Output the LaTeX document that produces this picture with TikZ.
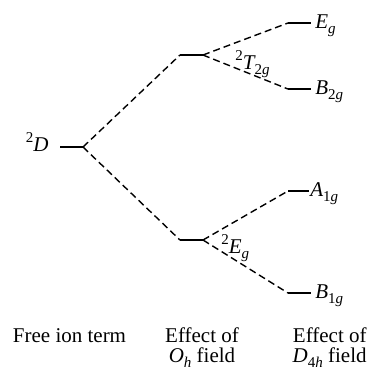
\documentclass[tikz,border=0pt]{standalone}
\usepackage{fontspec}
\setmainfont{Liberation Serif}
\newcommand{\lvl}[3]{{\itshape #1}\raisebox{-0.6ex}{\fontsize{7.5}{8}\selectfont #2{\itshape #3}}}
\newcommand{\termsup}[1]{\raisebox{0.85ex}{\fontsize{7.5}{8}\selectfont #1}}
\begin{document}
\begin{tikzpicture}[x=0.5pt,y=-0.5pt,
  level/.style={line width=1.2pt},
  split/.style={line width=0.7pt, dash pattern=on 3.5pt off 2pt},
  lab/.style={inner sep=0pt, font=\fontsize{10.5}{12}\selectfont}]
\useasboundingbox (0,0) rectangle (373,371);
% level end points
\coordinate (DL) at (60,147);  \coordinate (DR) at (83,147);
\coordinate (TL) at (180,55);  \coordinate (TR) at (203,55);
\coordinate (EL) at (180,240); \coordinate (ER) at (203,240);
\coordinate (egL) at (288,23);  \coordinate (egR) at (311,23);
\coordinate (btL) at (288,89);  \coordinate (btR) at (311,89);
\coordinate (aoL) at (288,191); \coordinate (aoR) at (309,191);
\coordinate (boL) at (288,293); \coordinate (boR) at (311,293);
% levels
\draw[level] (DL) -- (DR);
\draw[level] (TL) -- (TR);
\draw[level] (EL) -- (ER);
\draw[level] (egL) -- (egR);
\draw[level] (btL) -- (btR);
\draw[level] (aoL) -- (aoR);
\draw[level] (boL) -- (boR);
% splittings
\draw[split] (DR) -- (TL);
\draw[split] (DR) -- (EL);
\draw[split] (TR) -- (egL);
\draw[split] (TR) -- (btL);
\draw[split] (ER) -- (aoL);
\draw[split] (ER) -- (boL);
% labels
\node[lab, anchor=base east] (dlab) at (49,151) {\termsup{2}\textit{D}};
\node[lab, anchor=base west] (tlab) at (235,69) {\termsup{2}\lvl{T}{2}{g}};
\node[lab, anchor=base west] (elab) at (221,253) {\termsup{2}\lvl{E}{}{g}};
\node[lab, anchor=base west] (eglab) at (315,28) {\lvl{E}{}{g}};
\node[lab, anchor=base west] (btlab) at (315,94) {\lvl{B}{2}{g}};
\node[lab, anchor=base west] (aolab) at (310,196) {\lvl{A}{1}{g}};
\node[lab, anchor=base west] (bolab) at (315,298) {\lvl{B}{1}{g}};
% bottom captions
\node[lab, anchor=base] (free) at (69.5,342) {Free ion term};
\node[lab, anchor=base] (oha) at (202,342) {Effect of};
\node[lab, anchor=base] (ohb) at (202,362) {\lvl{O}{}{h} field};
\node[lab, anchor=base east] (dha) at (367,342) {Effect of};
\node[lab, anchor=base east] (dhb) at (367,362) {\lvl{D}{4}{h} field};
\end{tikzpicture}
\end{document}
